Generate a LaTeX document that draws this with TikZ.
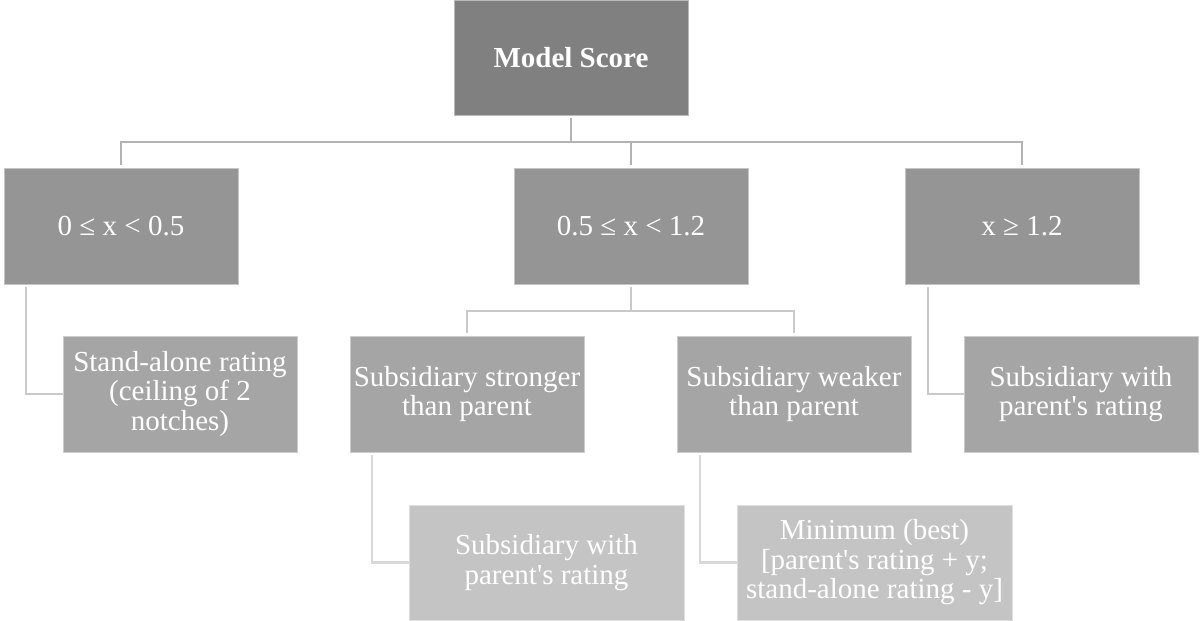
\documentclass[tikz,border=0pt]{standalone}
\usepackage{fontspec}
\setmainfont{Liberation Serif}
\definecolor{topfill}{HTML}{808080}
\definecolor{onefill}{HTML}{959595}
\definecolor{twofill}{HTML}{A5A5A5}
\definecolor{threefill}{HTML}{C4C4C4}
\definecolor{linkone}{HTML}{B3B3B3}
\definecolor{linktwo}{HTML}{C9C9C9}
\definecolor{linkthree}{HTML}{D9D9D9}
\begin{document}
\begin{tikzpicture}[x=1pt, y=-1pt,
  box/.style = {fill=#1, draw=#1!55!white, line width=0.8pt, text=white, align=center,
    minimum width=234pt, minimum height=116pt, inner sep=0pt,
    font=\fontsize{29}{29.5}\selectfont},
  widebox/.style = {box=#1, minimum width=275pt, minimum height=115pt},
  link/.style = {draw=#1, line width=2.2pt}]
  \useasboundingbox[fill=white] (0,0) rectangle (1200,621);

  \node[box=topfill, minimum height=115pt] (score) at (571,57.5) {\textbf{Model Score}};

  \node[box=onefill] (low) at (121,226) {0 ≤ x < 0.5};
  \node[box=onefill] (mid) at (631,226) {0.5 ≤ x < 1.2};
  \node[box=onefill] (high) at (1022,226) {x ≥ 1.2};

  \node[box=twofill] (alone) at (180,394) {Stand-alone rating\\(ceiling of 2\\notches)};
  \node[box=twofill] (stronger) at (467,394) {Subsidiary stronger\\than parent};
  \node[box=twofill] (weaker) at (794,394) {Subsidiary weaker\\than parent};
  \node[box=twofill] (parenthigh) at (1081,394) {Subsidiary with\\parent\textquotesingle s rating};

  \node[widebox=threefill] (parentmid) at (546.5,562.5) {Subsidiary with\\parent\textquotesingle s rating};
  \node[widebox=threefill] (minimum) at (874.5,562.5) {Minimum (best)\\{}[parent\textquotesingle s rating + y;\\stand-alone rating - y]};

  \coordinate (busone) at (571,142);
  \coordinate (bustwo) at (631,311);

  \draw[link=linkone, shorten <=3pt] (score.south) -- (busone);
  \draw[link=linkone, shorten <=3pt, shorten >=3pt] (low.north) |- (busone) -| (high.north);
  \draw[link=linkone, shorten >=3pt] (busone -| mid.north) -- (mid.north);

  \draw[link=linktwo, shorten <=3pt] (mid.south) -- (bustwo);
  \draw[link=linktwo, shorten <=3pt, shorten >=3pt] (stronger.north) |- (bustwo) -| (weaker.north);
  \draw[link=linktwo, shorten <=3pt] ([xshift=22pt]low.south west) |- (alone.west);
  \draw[link=linktwo, shorten <=3pt] ([xshift=23pt]high.south west) |- (parenthigh.west);

  \draw[link=linkthree, shorten <=3pt] ([xshift=22pt]stronger.south west) |- (parentmid.west);
  \draw[link=linkthree, shorten <=3pt] ([xshift=23pt]weaker.south west) |- (minimum.west);
\end{tikzpicture}
\end{document}
